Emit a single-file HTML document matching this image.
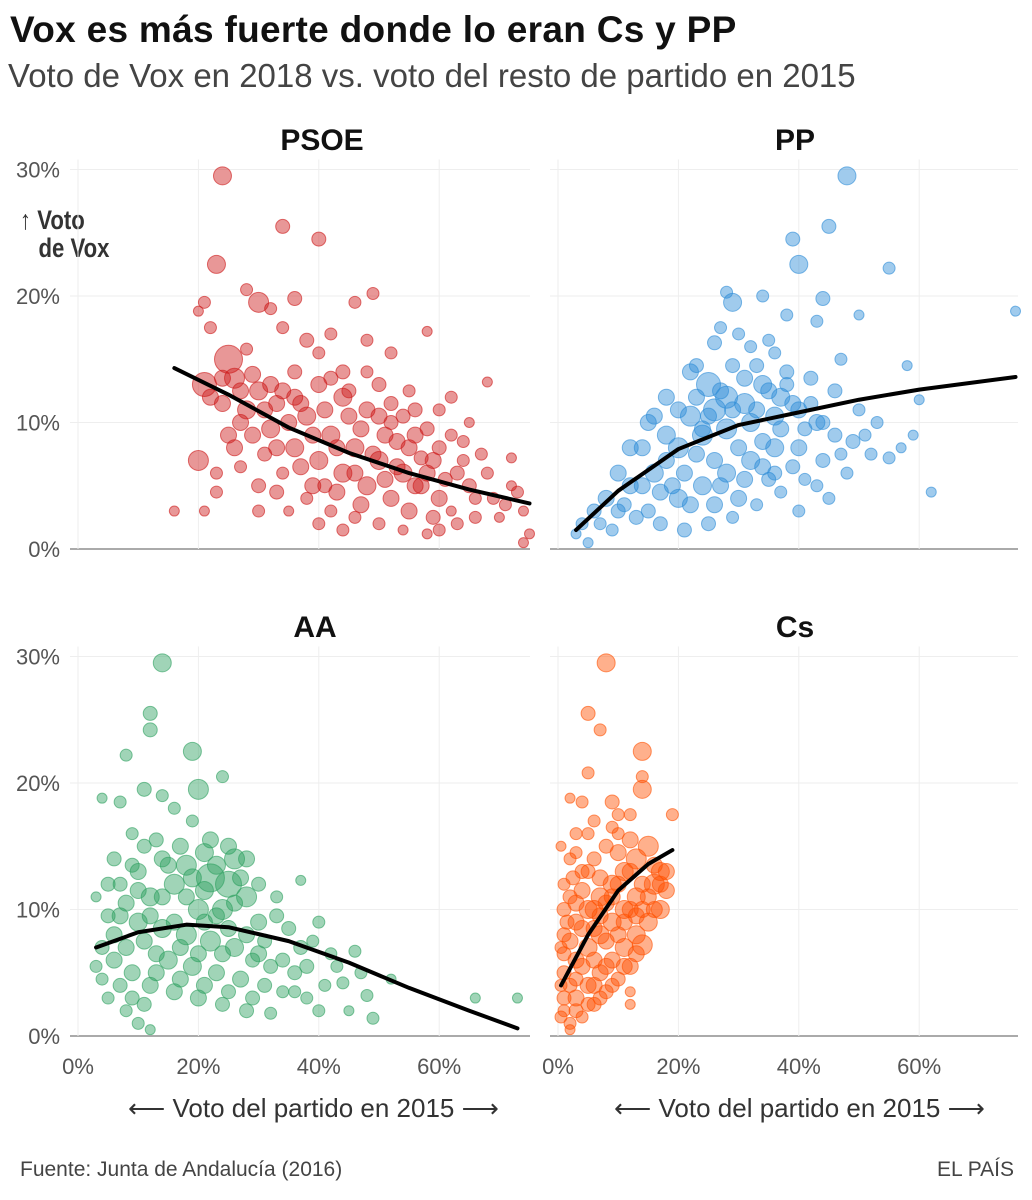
<!DOCTYPE html>
<html><head><meta charset="utf-8">
<style>
body{margin:0;background:#fff;font-family:"Liberation Sans",sans-serif;}
#wrap{position:relative;width:1032px;height:1200px;overflow:hidden;}
.t{position:absolute;white-space:nowrap;}
</style></head>
<body>
<div id="wrap">
<div class="t" style="left:10px;top:9px;font-size:37px;font-weight:bold;color:#111;letter-spacing:0.3px;">Vox es más fuerte donde lo eran Cs y PP</div>
<div class="t" style="left:8px;top:57px;font-size:33px;color:#444;">Voto de Vox en 2018 vs. voto del resto de partido en 2015</div>
<div class="t" style="left:20px;top:206px;font-size:27px;font-weight:bold;color:#333;line-height:28px;transform:scaleX(0.82);transform-origin:left;">↑ Voto<br>&nbsp;&nbsp;&nbsp;de Vox</div>
<svg id="svg" width="1032" height="1200" style="position:absolute;left:0;top:0;"></svg>
<div class="t" style="left:128px;top:1093px;font-size:26px;color:#333;">⟵ Voto del partido en 2015 ⟶</div>
<div class="t" style="left:614px;top:1093px;font-size:26px;color:#333;">⟵ Voto del partido en 2015 ⟶</div>
<div class="t" style="left:20px;top:1158px;font-size:21px;color:#444;">Fuente: Junta de Andalucía (2016)</div>
<div class="t" style="right:18px;top:1158px;font-size:21px;color:#444;">EL PAÍS</div>
</div>
<script>
const yTicks=[0,10,20,30];
const xTicks=[0,20,40,60];
const panelNames=["PSOE","PP","AA","Cs"];
const psoePoints=[[24,29.5,9],[34,25.5,7],[40,24.5,7],[23,22.5,9],[28,20.5,6],[30,19.5,10],[21,19.5,6],[20,18.8,5],[32,19,6],[49,20.2,6],[46,19.5,6],[36,19.8,7],[22,17.5,6],[34,17.5,6],[38,16.5,7],[42,17,6],[48,16.5,6],[58,17.2,5],[52,15.5,6],[25,15,14],[21,13,12],[26,13.5,10],[30,12.5,9],[33,11.5,8],[36,14,7],[40,13,8],[44,12,9],[48,11,8],[52,10,7],[56,9,8],[60,8,7],[64,7,6],[68,6,6],[72,5,5],[74,3,5],[75,1.2,5],[74,0.5,5],[20,7,10],[16,3,5],[21,3,5],[23,4.5,6],[27,6.5,6],[30,5,7],[34,6,6],[38,4,6],[42,3,6],[46,2.5,6],[50,2,6],[54,1.5,5],[58,1.2,5],[62,3,5],[66,4,6],[70,2.5,5],[32,9.5,9],[36,8,9],[40,7,9],[44,6,9],[48,5,9],[52,4,8],[56,5,8],[60,4,8],[38,10.5,9],[42,9,9],[46,8,9],[50,7,9],[54,6,9],[58,6,8],[28,11,9],[32,13,8],[44,14,7],[50,13,7],[55,12.5,6],[60,11,6],[62,9,6],[65,10,5],[68,13.2,5],[72,7.2,5],[35,3,5],[27,10,8],[24,11.5,8],[45,10.5,8],[53,8.5,8],[57,7.2,7],[41,5,7],[31,7.5,7]];
const psoeCore=[[22,12,8],[24,13.5,8],[27,12.5,8],[29,13.8,8],[31,11,8],[34,12.5,8],[35,10,8],[37,11.5,8],[39,9,8],[41,11,8],[43,8,8],[45,12.5,7],[47,9.5,8],[49,7.5,8],[51,9,8],[53,6.5,8],[55,8,8],[57,5,8],[59,7,8],[61,5.5,7],[63,6,7],[65,5,7],[67,7.5,6],[69,4,6],[71,3.5,6],[73,4.5,6],[33,8,8],[37,6.5,8],[39,5,8],[43,4.5,8],[47,3.5,8],[51,5.5,8],[55,3,8],[59,2.5,7],[63,2,6],[29,9,8],[26,8,8],[30,3,6],[44,1.5,6],[52,11.5,7],[56,11,7],[62,12,6],[48,14,6],[40,15.5,6],[28,15.8,6],[36,12,8],[42,13.5,7],[46,6,8],[50,10.5,8],[54,10.5,7],[58,9.5,7],[64,8.5,6],[33,4.5,7],[25,9,8],[23,6,6],[66,2.5,6],[60,1.5,6],[40,2,6]];
const ppPoints=[[48,29.5,9],[45,25.5,7],[39,24.5,7],[40,22.5,9],[55,22.2,6],[76,18.8,5],[28,20.3,6],[29,19.5,9],[34,20,6],[44,19.8,7],[38,18.5,6],[43,18,6],[50,18.5,5],[30,17,6],[26,16.3,7],[32,16,6],[36,15.5,6],[47,15,6],[58,14.5,5],[22,14,8],[25,13,12],[28,12,11],[31,11.5,10],[34,13,9],[37,12,9],[40,11,8],[43,10,8],[46,9,7],[49,8.5,7],[52,7.5,6],[55,7.2,6],[62,4.5,5],[59,9,5],[18,12,8],[15,10,8],[12,8,8],[10,6,8],[8,4,8],[6,3,7],[4,2,6],[3,1.2,5],[5,0.5,5],[9,1.5,6],[13,2.5,7],[17,2,7],[21,1.5,7],[25,2,7],[29,2.5,6],[33,3.5,6],[37,4.5,6],[41,5.5,6],[45,4,6],[20,4,9],[24,5,9],[28,6,9],[32,7,9],[36,8,9],[16,6,9],[20,8,10],[24,9,10],[28,9.5,10],[32,10,9],[36,10.5,9],[40,8,8],[44,7,7],[48,6,6],[14,5,8],[11,3.5,7],[42,13.5,7],[46,12.5,7],[50,11,6],[53,10,6],[26,11,11],[22,10.5,10],[18,9,9],[35,5.5,7],[39,6.5,7],[30,4,8],[57,8,5],[60,11.8,5]];
const ppCore=[[14,8,8],[16,10.5,8],[18,7,8],[20,11,8],[21,6,8],[23,12,8],[23,7.5,8],[25,10.5,8],[26,7,8],[27,12.5,8],[29,11,8],[30,8,8],[31,13.5,8],[33,11,8],[34,8.5,8],[35,12.5,8],[37,9.5,8],[38,14,7],[39,11.5,8],[41,9.5,7],[42,11.5,7],[44,10,7],[19,5,8],[22,3.5,8],[26,3.5,8],[27,5,8],[31,5.5,8],[34,6.5,8],[12,5,8],[10,3,7],[7,2,6],[15,3,7],[17,4.5,8],[23,14.5,7],[29,14.5,7],[33,14.5,7],[35,16.5,6],[27,17.5,6],[24,9.5,8],[36,6,7],[40,3,6],[43,5,6],[47,7.5,6],[51,9,6],[38,13,7]];
const aaPoints=[[14,29.5,9],[12,25.5,7],[12,24.2,7],[19,22.5,9],[8,22.2,6],[20,19.5,10],[24,20.5,6],[11,19.5,7],[14,19,6],[4,18.8,5],[7,18.5,6],[16,18,6],[19,17,6],[22,15.5,8],[9,16,6],[13,15.5,7],[6,14,7],[26,14,10],[18,13.5,10],[22,12.5,14],[25,12,13],[28,11,10],[16,12,10],[12,11,9],[8,10.5,8],[5,9.5,7],[3,11,5],[10,9,9],[14,8.5,9],[18,8,10],[22,7.5,10],[26,7,9],[30,6.5,8],[34,6,7],[38,5.5,7],[42,6.5,6],[46,6.7,6],[44,4.2,6],[48,3.2,6],[52,4.5,5],[45,2,5],[49,1.4,6],[66,3,5],[73,3,5],[6,6,8],[9,5,8],[12,4,8],[16,3.5,8],[20,3,8],[24,2.5,7],[28,2,7],[32,1.8,6],[36,3.5,6],[40,2,6],[8,2,6],[10,1,6],[12,0.5,5],[5,3,6],[4,4.5,6],[15,6,9],[19,5.5,9],[23,5,8],[27,4.5,8],[31,4,7],[35,8.5,7],[39,7.5,6],[30,9,8],[33,11,6],[37,12.3,5],[20,10,10],[24,10,10],[28,14,8],[10,13,8],[7,12,7],[17,15,8],[40,9,6]];
const aaCore=[[6,8,8],[8,7,8],[10,11.5,8],[11,7.5,8],[12,9.5,8],[13,6.5,8],[14,11,8],[15,13.5,8],[16,9,8],[17,7,8],[18,11,8],[19,12.5,9],[20,6.5,8],[21,11.5,9],[21,9,8],[23,13.5,9],[23,9.5,8],[24,6.5,8],[25,8.5,8],[26,10.5,8],[27,12.5,8],[28,8,8],[29,6,7],[31,7.5,7],[32,5.5,7],[33,9.5,7],[36,5,7],[37,7,7],[41,4,6],[43,5.5,6],[47,5,6],[7,4,7],[9,3,7],[11,2.5,7],[13,5,8],[17,4.5,8],[21,4,8],[25,3.5,7],[29,3,7],[14,14,8],[11,15,7],[9,13.5,7],[5,12,7],[4,7,7],[3,5.5,6],[7,9.5,8],[21,14.5,9],[25,15,8],[30,12,7],[34,3.5,6],[38,3,6]];
const csPoints=[[8,29.5,9],[5,25.5,7],[7,24.2,6],[14,22.5,9],[14,20.5,6],[14,19.5,9],[5,20.8,6],[2,18.8,5],[19,17.5,6],[4,18.5,6],[9,18.5,7],[12,17.5,6],[6,17,6],[10,16,6],[3,16,6],[15,15,10],[13,14,10],[11,13,9],[17,13,9],[16,12,10],[18,11.5,8],[9,12,9],[7,11,9],[5,10,9],[3,9,8],[1,8,7],[13,11,9],[11,10,9],[9,9,9],[7,8,9],[5,7,9],[3,6,8],[1,5,7],[13,8,9],[11,7,9],[9,6,8],[7,5,8],[5,4,8],[3,3,8],[1,2,6],[2,1,6],[2,0.5,5],[4,1.5,6],[6,2.5,7],[8,3.5,7],[10,4.5,7],[12,5.5,8],[14,7.2,10],[12,3.5,5],[12,2.5,5],[15,9,9],[17,10,9],[1,12,6],[2,14,6],[0.5,15,5],[4,13,7],[6,14,7],[8,15,7],[10,14.5,8],[1,10,7],[2,11,7],[0.5,7,6],[3,4.5,7],[6,10,9]];
const csCore=[[1,3,7],[1,6.5,7],[1.5,9,7],[2,4,7],[2,7.5,8],[2.5,12.5,7],[3,2,7],[3,10.5,8],[4,5.5,8],[4,8.5,8],[4,11.5,8],[5,2.5,7],[5,13,7],[6,4,8],[6,6,8],[6,8.5,8],[7,3,7],[7,9.5,8],[7,12.5,8],[8,5.5,8],[8,7.5,8],[8,10.5,8],[9,4,7],[9,11,8],[10,8,8],[10,12,8],[11,5.5,8],[11,9,8],[12,10,8],[12,13,8],[13,6.5,8],[13,9.5,8],[14,12,8],[15,11,8],[16,13.5,8],[17,12,8],[18,13,8],[16,10,8],[14,10,8],[0.5,4,6],[0.5,1.5,6],[3,14.5,6],[5,16,6],[10,17.5,6],[12,15.5,8],[9,16.5,6]];
const psoeTrend=[[16,14.3],[25,12.2],[35,9.6],[45,7.6],[55,6],[65,4.7],[75,3.6]];
const ppTrend=[[3,1.5],[10,4.6],[20,7.9],[30,9.8],[40,10.8],[50,11.8],[60,12.6],[76,13.6]];
const aaTrend=[[3,7],[10,8.2],[18,8.8],[25,8.6],[35,7.5],[45,5.8],[55,3.8],[65,2],[73,0.6]];
const csTrend=[[0.5,4],[5,8],[10,11.5],[15,13.6],[19,14.7]];

const NS="http://www.w3.org/2000/svg";
const svg=document.getElementById('svg');
function mk(tag,attrs,parent){const e=document.createElementNS(NS,tag);for(const k in attrs)e.setAttribute(k,attrs[k]);(parent||svg).appendChild(e);return e;}
const panels=[
 {name:panelNames[0],pts:psoePoints.concat(psoeCore),trend:psoeTrend,x0:78,left:70,right:530,y0:549,color:"205,25,25",tx:322,ty:150,ylab:true,xlab:false},
 {name:panelNames[1],pts:ppPoints.concat(ppCore),trend:ppTrend,x0:558,left:550,right:1018,y0:549,color:"45,140,215",tx:795,ty:150,ylab:false,xlab:false},
 {name:panelNames[2],pts:aaPoints.concat(aaCore),trend:aaTrend,x0:78,left:70,right:530,y0:1036,color:"45,160,95",tx:315,ty:637,ylab:true,xlab:true},
 {name:panelNames[3],pts:csPoints.concat(csCore),trend:csTrend,x0:558,left:550,right:1018,y0:1036,color:"255,80,0",tx:795,ty:637,ylab:false,xlab:true}
];
panels.forEach(p=>{
 const sx=v=>p.x0+v*6.02;
 const sy=v=>p.y0-v*12.65;
 const g=mk('g',{});
 
 
 yTicks.forEach(t=>{
  const l=mk('line',{x1:p.left,x2:p.right,y1:sy(t),y2:sy(t),stroke:t===0?"#aaa":"#eee","stroke-width":t===0?2:1},g);
  
  
  if(p.ylab){const tt=mk('text',{x:60,y:sy(t)+8,"text-anchor":"end","font-size":22,fill:"#555","font-family":"Liberation Sans, sans-serif"},g);tt.textContent=t+"%";
   
   }
 });
 xTicks.forEach(t=>{
  const l=mk('line',{x1:sx(t),x2:sx(t),y1:sy(30)-10,y2:p.y0,stroke:"#eee","stroke-width":1},g);
  
  
  if(p.xlab){const tt=mk('text',{x:sx(t),y:p.y0+38,"text-anchor":"middle","font-size":22,fill:"#555","font-family":"Liberation Sans, sans-serif"},g);tt.textContent=t+"%";
   
   }
 });
 const title=mk('text',{x:p.tx,y:p.ty,"text-anchor":"middle","font-size":30,"font-weight":"bold",fill:"#111","font-family":"Liberation Sans, sans-serif"},g);
 title.textContent=p.name;
 
 
 p.pts.forEach(d=>{
  const c=mk('circle',{cx:sx(d[0]),cy:sy(d[1]),r:d[2],fill:"rgba("+p.color+",0.45)",stroke:"rgba("+p.color+",0.6)","stroke-width":1},g);
  
  
 });
 let dstr="";
 p.trend.forEach((d,i)=>{dstr+=(i?"L":"M")+sx(d[0])+","+sy(d[1]);});
 const path=mk('path',{d:dstr,fill:"none",stroke:"#000","stroke-width":4,"stroke-linecap":"round","stroke-linejoin":"round"},g);
 
 
});
</script>
</body></html>
